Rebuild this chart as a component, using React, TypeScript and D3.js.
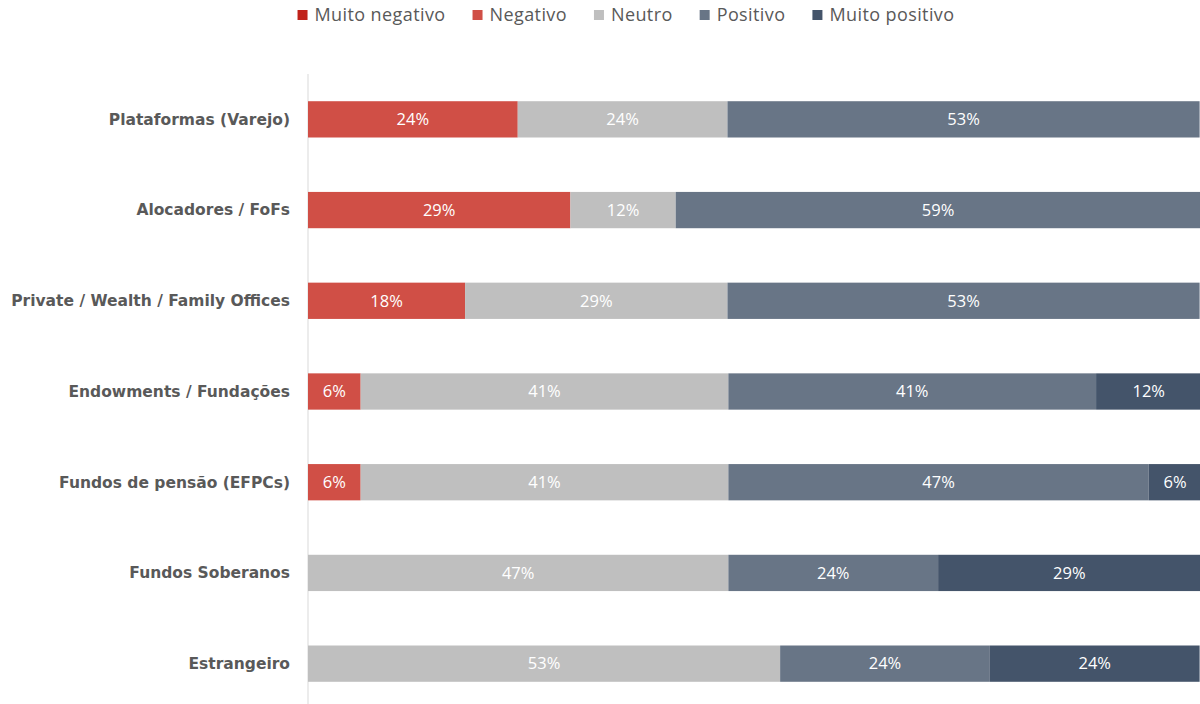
import React, { useEffect, useRef } from "react";
import * as d3 from "d3";

const categories = [
  "Plataformas (Varejo)",
  "Alocadores / FoFs",
  "Private / Wealth / Family Offices",
  "Endowments / Fundações",
  "Fundos de pensão (EFPCs)",
  "Fundos Soberanos",
  "Estrangeiro",
];
const seriesNames = ["Muito negativo", "Negativo", "Neutro", "Positivo", "Muito positivo"];
const muitoNegativo = [0, 0, 0, 0, 0, 0, 0];
const negativo = [23.5, 29.4, 17.6, 5.9, 5.9, 0, 0];
const neutro = [23.5, 11.8, 29.4, 41.2, 41.2, 47.1, 52.9];
const positivo = [52.9, 58.8, 52.9, 41.2, 47.1, 23.5, 23.5];
const muitoPositivo = [0, 0, 0, 11.8, 5.9, 29.4, 23.5];
const colors = ["#C0221A", "#D04F46", "#BFBFBF", "#687586", "#44546A"];

const W = 1200;
const H = 704;
const FONT = "'Open Sans', 'Liberation Sans', Arial, sans-serif";
const LABEL_FONT = "'DejaVu Sans', 'Open Sans', sans-serif";

export default function App() {
  const ref = useRef<SVGSVGElement | null>(null);
  useEffect(() => {
    const svg = d3.select(ref.current);
    svg.selectAll("*").remove();
    const series = [muitoNegativo, negativo, neutro, positivo, muitoPositivo];
    const x = d3.scaleLinear().domain([0, 100]).range([308, 1200.5]);
    const y = d3.scaleBand<string>().domain(categories).range([74, 709]).paddingInner(0.6).paddingOuter(0.3);

    svg.append("line").attr("x1", 308).attr("x2", 308).attr("y1", 74).attr("y2", 704)
      .attr("stroke", "#D9D9D9").attr("stroke-width", 1);

    categories.forEach((c, i) => {
      let acc = 0;
      series.forEach((s, k) => {
        const v = s[i];
        if (v <= 0) return;
        const x0 = x(acc);
        const x1 = x(acc + v);
        acc += v;
        const g = svg.append("g");
        g.append("rect").attr("x", x0).attr("y", y(c)!).attr("width", x1 - x0)
          .attr("height", y.bandwidth()).attr("fill", colors[k]);
        g.append("text").attr("x", (x0 + x1) / 2).attr("y", y(c)! + y.bandwidth() / 2)
          .attr("dy", "0.35em").attr("text-anchor", "middle").attr("fill", "#FFFFFF")
          .attr("font-family", FONT).attr("font-size", 16.5)
          .text(Math.round(v) + "%");
      });
      svg.append("text").attr("x", 290).attr("y", y(c)! + y.bandwidth() / 2).attr("dy", "0.35em")
        .attr("text-anchor", "end").attr("fill", "#595959").attr("font-weight", "bold")
        .attr("font-family", LABEL_FONT).attr("font-size", 15.5).text(c);
    });

    // legend
    const lg = svg.append("g");
    let cx = 0;
    const items: { g: any; w: number }[] = [];
    seriesNames.forEach((n, k) => {
      const g = lg.append("g");
      g.append("rect").attr("x", 0).attr("y", 10).attr("width", 10).attr("height", 10).attr("fill", colors[k]);
      const t = g.append("text").attr("x", 17).attr("y", 15).attr("dy", "0.35em")
        .attr("fill", "#595959").attr("font-family", FONT).attr("font-size", 18)
        .attr("letter-spacing", 0.4).text(n);
      const w = 17 + (t.node() as SVGTextElement).getComputedTextLength();
      items.push({ g, w });
    });
    const gap = 27;
    const total = items.reduce((a, b) => a + b.w, 0) + gap * (items.length - 1);
    cx = 626 - total / 2;
    items.forEach((it) => {
      it.g.attr("transform", `translate(${cx},0)`);
      cx += it.w + gap;
    });
  }, []);
  return (
    <svg ref={ref} width={W} height={H} style={{ position: "absolute", left: 0, top: 0, background: "#fff" }} />
  );
}
